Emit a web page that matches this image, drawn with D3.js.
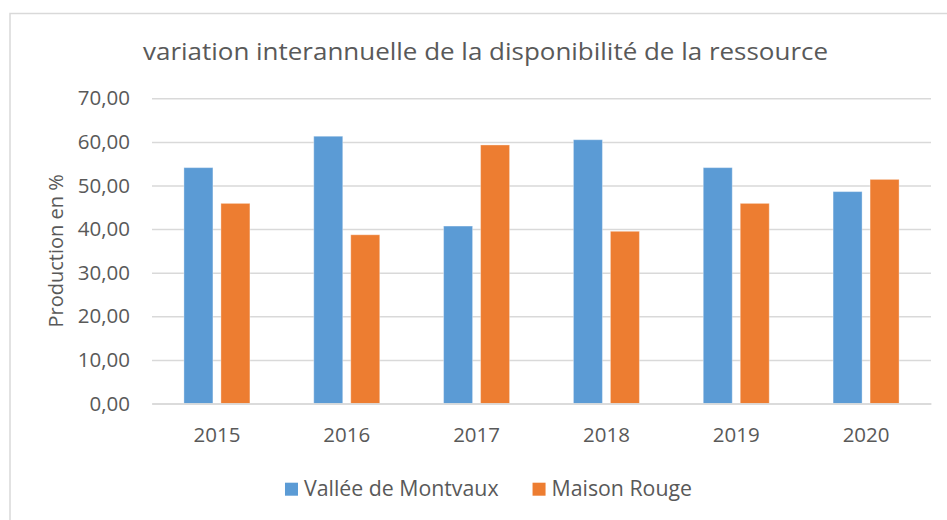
<!DOCTYPE html>
<html>
<head>
<meta charset="utf-8">
<script src="https://cdn.jsdelivr.net/npm/d3@7"></script>
<style>
  html, body { margin: 0; padding: 0; background: #ffffff; }
  svg { display: block; }
  text { font-family: "Open Sans", sans-serif; fill: #595959; }
</style>
</head>
<body>
<svg id="chart" width="947" height="520"></svg>
<script>
const title = "variation interannuelle de la disponibilité de la ressource";
const yAxisTitle = "Production en %";
const years = ["2015", "2016", "2017", "2018", "2019", "2020"];
const seriesNames = ["Vallée de Montvaux", "Maison Rouge"];
const valleeMontvaux = [54.1, 61.3, 40.7, 60.5, 54.1, 48.6];
const maisonRouge = [45.9, 38.7, 59.3, 39.5, 45.9, 51.4];
const seriesColors = ["#5B9BD5", "#ED7D31"];
const yTicks = [0, 10, 20, 30, 40, 50, 60, 70];

const seriesValues = [valleeMontvaux, maisonRouge];
const rows = years.map((yr, i) => ({
  year: yr,
  values: seriesNames.map((s, k) => ({ series: s, value: seriesValues[k][i], color: seriesColors[k] }))
}));

const svg = d3.select("#chart");
const W = 947, H = 520;
const plot = { left: 152, right: 931, top: 98.3, bottom: 403.5 };

// Chart frame
svg.append("rect")
  .attr("x", 10).attr("y", 13.5)
  .attr("width", W + 10).attr("height", H + 10)
  .attr("fill", "#ffffff")
  .attr("stroke", "#D9D9D9").attr("stroke-width", 1.5);

const x0 = d3.scaleBand().domain(years).range([plot.left, plot.right])
  .paddingInner(0.4917).paddingOuter(0.4917 / 2);
const x1 = d3.scaleBand().domain(seriesNames).range([0, x0.bandwidth()])
  .paddingInner(0.216).paddingOuter(0);
const y = d3.scaleLinear().domain([0, 70]).range([plot.bottom, plot.top]);

// Gridlines
const fmt = v => d3.format(".2f")(v).replace(".", ",");
const yAxis = d3.axisLeft(y).tickValues(yTicks).tickFormat(fmt)
  .tickSize(-(plot.right - plot.left)).tickPadding(22);
const gy = svg.append("g").attr("transform", `translate(${plot.left},0)`).call(yAxis);
gy.select(".domain").remove();
gy.selectAll(".tick line").attr("stroke", "#D9D9D9").attr("stroke-width", 1.5);
gy.selectAll(".tick text")
  .style("font-family", '"Open Sans", sans-serif')
  .attr("font-size", 20.5).attr("fill", "#595959");

// Bars
const groups = svg.append("g").selectAll("g").data(rows).join("g")
  .attr("transform", d => `translate(${x0(d.year)},0)`);
groups.selectAll("rect").data(d => d.values).join("rect")
  .attr("x", d => x1(d.series))
  .attr("width", x1.bandwidth())
  .attr("y", d => y(d.value))
  .attr("height", d => y(0) - y(d.value))
  .attr("fill", d => d.color)
  .attr("stroke", "#ffffff").attr("stroke-opacity", 0.35).attr("stroke-width", 1);

// X axis
const xAxis = d3.axisBottom(x0).tickSize(0).tickPadding(24);
const gx = svg.append("g").attr("transform", `translate(0,${plot.bottom})`).call(xAxis);
gx.select(".domain").attr("stroke", "#D9D9D9").attr("stroke-width", 1.5);
gx.selectAll(".tick text")
  .style("font-family", '"Open Sans", sans-serif')
  .attr("font-size", 20.5).attr("fill", "#595959");

// Title
svg.append("text")
  .attr("x", 485.5).attr("y", 60)
  .attr("text-anchor", "middle")
  .attr("font-size", 23)
  .attr("textLength", 685).attr("lengthAdjust", "spacingAndGlyphs")
  .text(title);

// Y axis title
svg.append("text")
  .attr("transform", `translate(63,${(plot.top + plot.bottom) / 2}) rotate(-90)`)
  .attr("text-anchor", "middle")
  .attr("font-size", 20)
  .text(yAxisTitle);

// Legend
const legend = svg.append("g");
let lx = 0;
seriesNames.forEach((name, k) => {
  const item = legend.append("g").attr("transform", `translate(${lx},0)`);
  item.append("rect").attr("x", 0).attr("y", -13).attr("width", 13).attr("height", 13)
    .attr("fill", seriesColors[k]);
  const t = item.append("text").attr("x", 19).attr("y", 0).attr("font-size", 21.3).text(name);
  lx += 19 + t.node().getComputedTextLength() + 34;
});
const legendWidth = lx - 34;
legend.attr("transform", `translate(${488.5 - legendWidth / 2},495.7)`);
</script>
</body>
</html>
